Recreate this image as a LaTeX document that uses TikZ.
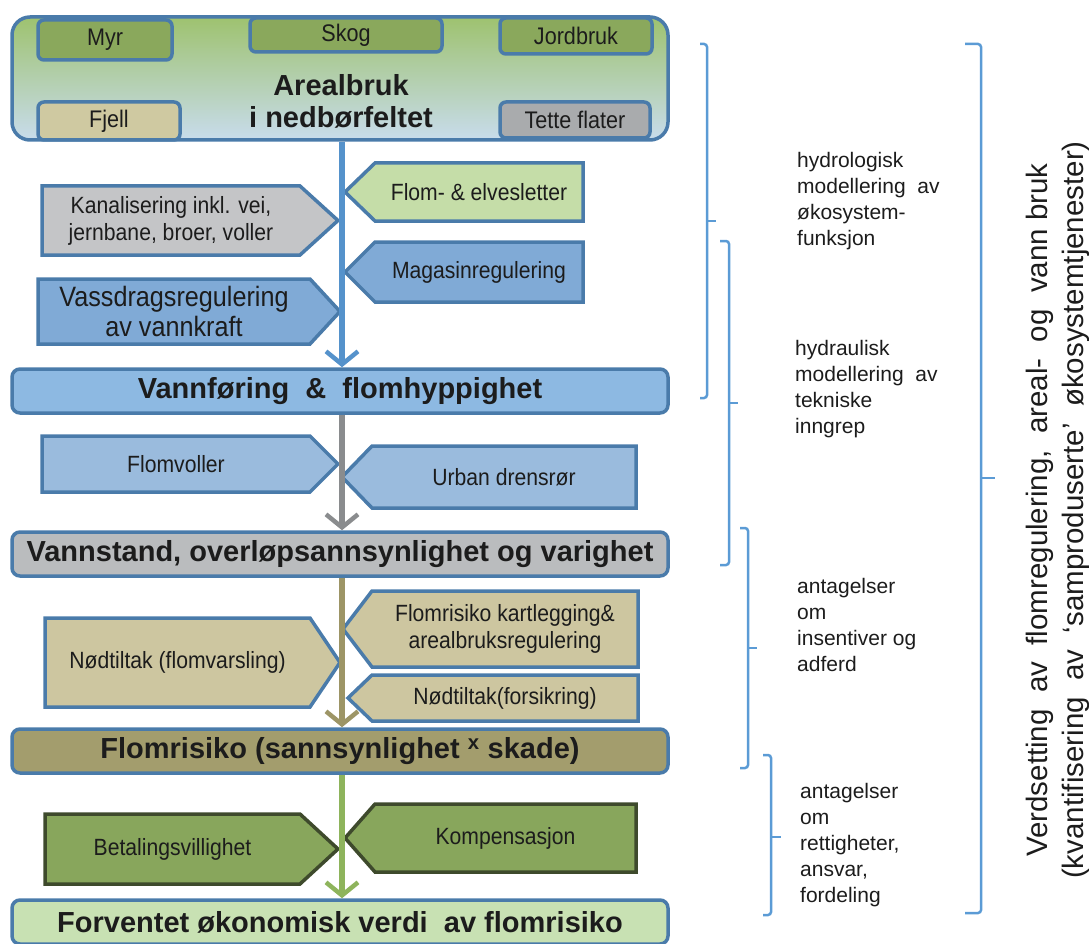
\documentclass[tikz,border=0pt]{standalone}
\usepackage{fontspec}
\setmainfont{Liberation Sans}
\newfontfamily\narrowfont[FakeStretch=0.9]{Liberation Sans}
\usetikzlibrary{arrows.meta}
\definecolor{bord}{HTML}{4A7BAA}
\definecolor{txt}{HTML}{1C1C1C}
\definecolor{topg}{HTML}{9EC26F}
\definecolor{botb}{HTML}{C8DCEC}
\definecolor{subg}{HTML}{8AA85C}
\definecolor{fjell}{HTML}{CFC9A1}
\definecolor{tette}{HTML}{A9ABAD}
\definecolor{lgreen}{HTML}{C5DDA8}
\definecolor{kgray}{HTML}{C4C5C7}
\definecolor{mblue}{HTML}{80AAD6}
\definecolor{vfblue}{HTML}{8DB9E2}
\definecolor{fvblue}{HTML}{9ABBDD}
\definecolor{vsgray}{HTML}{BABCBE}
\definecolor{tan}{HTML}{CDC6A0}
\definecolor{olive}{HTML}{A39D6D}
\definecolor{dgreen}{HTML}{88A65C}
\definecolor{dgbord}{HTML}{3E4A2C}
\definecolor{fvgreen}{HTML}{C8E1B3}
\definecolor{arblue}{HTML}{5592CB}
\definecolor{argray}{HTML}{8A8C8E}
\definecolor{arolive}{HTML}{9D9566}
\definecolor{argreen}{HTML}{8EB45C}
\definecolor{brblue}{HTML}{5B9BD5}
\tikzset{
  bar/.style={draw=bord, line width=3.5pt, rounded corners=8pt, minimum width=656pt, minimum height=44pt, inner sep=0pt, text=txt, font=\fontsize{29}{32}\selectfont\bfseries},
  subbox/.style={draw=bord, line width=3.5pt, rounded corners=6pt, inner sep=0pt, text=txt, font=\fontsize{24}{26}\selectfont\narrowfont},
  pent/.style={draw=bord, line width=3.5pt, line join=miter},
  ptext/.style={text=txt, align=center, inner sep=0pt, font=\fontsize{23.5}{27}\selectfont\narrowfont},
  bigtext/.style={font=\fontsize{28}{30}\selectfont\narrowfont},
  flowarrow/.style={line width=5.5pt, -{Straight Barb[length=13pt, width=32pt, line width=4.5pt]}},
  brace/.style={draw=brblue, line width=2.5pt, rounded corners=3pt},
  side/.style={text=txt, align=left, anchor=west, inner sep=0pt, font=\fontsize{21}{26}\selectfont},
}
\newcommand\pentR[9][]{%
  \path[pent,#2] (#4,#5) -- (#6,#5) -- (#8,{(#5+#7)/2}) -- (#6,#7) -- (#4,#7) -- cycle;
  \node[ptext,#1] (#3) at ({(#4+#6)/2},{(#5+#7)/2}) {#9};}
\newcommand\pentL[9][]{%
  \path[pent,#2] (#8,{(#5+#7)/2}) -- (#4,#5) -- (#6,#5) -- (#6,#7) -- (#4,#7) -- cycle;
  \node[ptext,#1] (#3) at ({(#4+#6)/2},{(#5+#7)/2}) {#9};}
\begin{document}
\begin{tikzpicture}[x=1pt,y=-1pt]
\useasboundingbox (0,0) rectangle (1089,944);
% top box
\node[draw=bord, line width=3.5pt, rounded corners=18pt, minimum width=656pt, minimum height=123pt, top color=topg, bottom color=botb, inner sep=0pt] (land) at (340,78.5) {};
\node[subbox, fill=subg, minimum width=134pt, minimum height=40pt] (myr) at (105,40) {Myr};
\node[subbox, fill=subg, minimum width=192pt, minimum height=34pt] (skog) at (346,35) {Skog};
\node[subbox, fill=subg, minimum width=152pt, minimum height=36pt] (jord) at (576,36) {Jordbruk};
\node[subbox, fill=fjell, minimum width=142pt, minimum height=38pt] (fjell) at (109,121) {Fjell};
\node[subbox, fill=tette, minimum width=150pt, minimum height=36pt] (tette) at (575,120) {Tette flater};
\node[text=txt, align=center, inner sep=0pt, font=\fontsize{29}{32}\selectfont\bfseries] (areal) at (341,101) {Arealbruk\\i nedbørfeltet};
% section 1
\pentL{fill=lgreen}{flom}{375}{163}{583}{221}{345}{Flom- \& elvesletter}
\pentR{fill=kgray}{kanal}{42}{186}{300}{255}{338}{Kanalisering inkl. vei,\\jernbane, broer, voller}
\pentL{fill=mblue}{magasin}{375}{242}{583}{302}{345}{Magasinregulering}
\pentR[bigtext]{fill=mblue}{vassdrag}{38}{279}{310}{344}{340}{Vassdragsregulering\\av vannkraft}
\node[bar, fill=vfblue] (vf) at (340,391) {Vannføring \ \& \ flomhyppighet};
\draw[flowarrow, arblue] ([xshift=2pt]land.south) -- ([xshift=2pt]vf.north);
% section 2
\pentR{fill=fvblue}{voller}{42}{436}{310}{492}{338}{Flomvoller}
\pentL{fill=fvblue}{urban}{372}{446}{636}{508}{342}{Urban drensrør}
\node[bar, fill=vsgray] (vs) at (340,554) {Vannstand, overløpsannsynlighet og varighet};
\draw[flowarrow, argray] ([xshift=2pt]vf.south) -- ([xshift=2pt]vs.north);
% section 3
\pentR{fill=tan}{varsling}{45}{618}{310}{707}{340}{Nødtiltak (flomvarsling)}
\pentL{fill=tan}{kart}{372}{591}{638}{667}{343}{Flomrisiko kartlegging\&\\arealbruksregulering}
\pentL{fill=tan}{forsik}{372}{675}{638}{721}{348}{Nødtiltak(forsikring)}
\node[bar, fill=olive] (risk) at (340,751) {Flomrisiko (sannsynlighet \textsuperscript{x} skade)};
\draw[flowarrow, arolive] ([xshift=2pt]vs.south) -- ([xshift=2pt]risk.north);
% section 4
\pentR{fill=dgreen, draw=dgbord}{betal}{45}{814}{300}{884}{338}{Betalingsvillighet}
\pentL{fill=dgreen, draw=dgbord}{komp}{375}{804}{636}{872}{345}{Kompensasjon}
\node[bar, fill=fvgreen] (fv) at (340,922) {Forventet økonomisk verdi \ av flomrisiko};
\draw[flowarrow, argreen] ([xshift=2pt]risk.south) -- ([xshift=2pt]fv.north);
% braces
\draw[brace] (700,44) -- (707,44) -- (707,398) -- (700,398);
\draw[brace] (707,221) -- (716,221);
\draw[brace] (720,241) -- (729,241) -- (729,565) -- (720,565);
\draw[brace] (729,403) -- (738,403);
\draw[brace] (740,528) -- (748,528) -- (748,768) -- (740,768);
\draw[brace] (748,648) -- (757,648);
\draw[brace] (763,755) -- (771,755) -- (771,915) -- (763,915);
\draw[brace] (771,837) -- (781,837);
\draw[brace] (965,44) -- (981,44) -- (981,913) -- (965,913);
\draw[brace] (981,478) -- (995,478);
% side labels
\node[side] (hydro) at (797,201) {hydrologisk\\modellering \ av\\økosystem-\\funksjon};
\node[side] (hydra) at (795,389) {hydraulisk\\modellering \ av\\tekniske\\inngrep};
\node[side] (ins) at (797,625) {antagelser\\om\\insentiver og\\adferd};
\node[side] (rett) at (800,845) {antagelser\\om\\rettigheter,\\ansvar,\\fordeling};
\node[text=txt, align=center, inner sep=0pt, rotate=90, font=\fontsize{29.5}{36}\selectfont] (verd) at (1058,510) {Verdsetting \ av \ flomregulering, \ areal- \ og \ vann bruk\\(kvantifisering \ av \ ‘samproduserte’ \ økosystemtjenester)};
\end{tikzpicture}
\end{document}
